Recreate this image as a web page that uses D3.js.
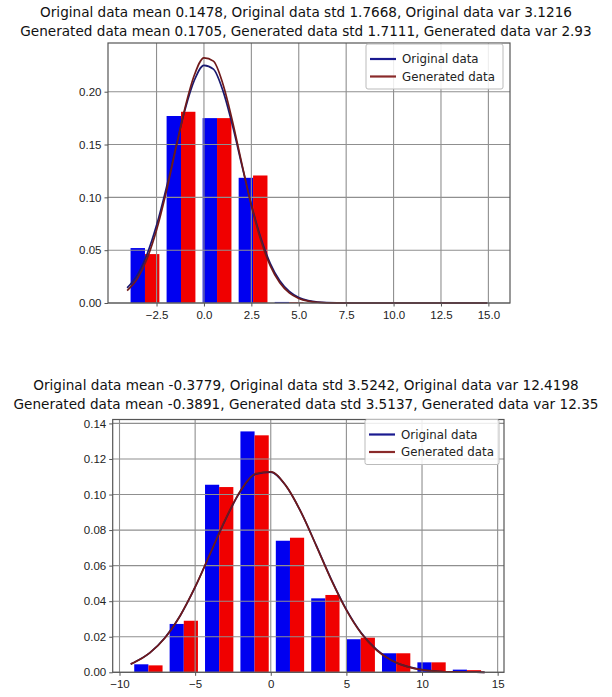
<!DOCTYPE html>
<html>
<head>
<meta charset="utf-8">
<script src="https://cdn.jsdelivr.net/npm/d3@7"></script>
<style>
body { margin:0; background:#fff; }
svg { font-family: "DejaVu Sans", sans-serif; }
.tick text { fill:#222; }
</style>
</head>
<body>
<svg class="chart" width="612" height="697"></svg>
<script>
// ---- top chart data ----
var topTitle = ["Original data mean 0.1478, Original data std 1.7668, Original data var 3.1216",
                "Generated data mean 0.1705, Generated data std 1.7111, Generated data var 2.93"];
var topEdges = [-4.06, -2.16, -0.26, 1.64, 3.54, 5.44, 7.34, 9.24, 11.14, 13.04, 14.94];
var topOrig = [0.052, 0.177, 0.175, 0.1185, 0.001, 0, 0, 0, 0, 0.0004];
var topGen  = [0.0463, 0.181, 0.175, 0.1207, 0.0008, 0, 0, 0, 0, 0.0003];
var topCurveX    = [-4.05, -3.5, -3, -2.5, -2, -1.5, -1, -0.5, 0, 0.5, 1, 1.5, 2, 2.5, 3, 3.5, 4, 4.5, 5, 5.5, 6, 7, 8, 10, 12, 14.94];
var topCurveOrig = [0.0143, 0.0268, 0.0462, 0.0735, 0.1078, 0.1462, 0.1829, 0.2111, 0.2250, 0.2214, 0.2010, 0.1685, 0.1304, 0.0931, 0.0614, 0.0374, 0.0210, 0.0109, 0.0052, 0.0023, 0.0009, 0.0001, 0, 0, 0, 0];
var topCurveGen  = [0.0118, 0.0234, 0.0419, 0.0690, 0.1043, 0.1448, 0.1846, 0.2160, 0.2320, 0.2289, 0.2073, 0.1724, 0.1317, 0.0923, 0.0594, 0.0351, 0.0191, 0.0095, 0.0043, 0.0018, 0.0007, 0.0001, 0, 0, 0, 0];
var topXTicks = [-2.5, 0, 2.5, 5, 7.5, 10, 12.5, 15];
var topYTicks = [0, 0.05, 0.10, 0.15, 0.20];

// ---- bottom chart data ----
var botTitle = ["Original data mean -0.3779, Original data std 3.5242, Original data var 12.4198",
                "Generated data mean -0.3891, Generated data std 3.5137, Generated data var 12.35"];
var botEdges = [-9.26, -6.92, -4.58, -2.24, 0.10, 2.44, 4.78, 7.12, 9.46, 11.80, 14.14];
var botOrig = [0.0045, 0.0272, 0.1055, 0.1355, 0.0740, 0.0416, 0.0186, 0.0107, 0.0056, 0.0015];
var botGen  = [0.0039, 0.0290, 0.1042, 0.1333, 0.0757, 0.0435, 0.0195, 0.0107, 0.0056, 0.0012];
var botCurveX    = [-9.26, -9, -8, -7, -6, -5, -4, -3, -2, -1, 0, 1, 2, 3, 4, 5, 6, 7, 8, 9, 10, 11, 12, 13, 14.14];
var botCurveOrig = [0.0046, 0.0057, 0.0109, 0.0194, 0.0317, 0.0479, 0.0668, 0.0858, 0.1018, 0.1114, 0.1126, 0.1049, 0.0901, 0.0715, 0.0523, 0.0353, 0.0220, 0.0127, 0.0067, 0.0033, 0.0015, 0.0006, 0.0002, 0.0001, 0];
var botCurveGen  = [0.0046, 0.0056, 0.0109, 0.0193, 0.0317, 0.0480, 0.0669, 0.0861, 0.1022, 0.1118, 0.1128, 0.1050, 0.0901, 0.0713, 0.0520, 0.0350, 0.0217, 0.0124, 0.0066, 0.0032, 0.0014, 0.0006, 0.0002, 0.0001, 0];
var botXTicks = [-10, -5, 0, 5, 10, 15];
var botYTicks = [0, 0.02, 0.04, 0.06, 0.08, 0.10, 0.12, 0.14];

var legendNames = ["Original data", "Generated data"];

var svg = d3.select(".chart");

function minus(s){ return s.replace("-", "\u2212"); }

function drawPanel(o){
	var x = d3.scaleLinear().domain(o.xdom).range([o.left, o.right]);
	var y = d3.scaleLinear().domain(o.ydom).range([o.bottom, o.top]);
	var g = svg.append("g");

	// titles
	o.title.forEach(function(t, i){
		g.append("text")
			.attr("x", 306).attr("y", o.titleY + i*19)
			.attr("text-anchor", "middle")
			.style("font-size", "13.6px").style("fill", "#111")
			.text(t);
	});

	// bars
	var pairs = o.orig.map(function(v, i){
		return {l:o.edges[i], w:o.edges[i+1]-o.edges[i], a:v, b:o.gen[i]};
	});
	pairs.forEach(function(d){
		g.append("rect")
			.attr("x", x(d.l + 0.1*d.w)).attr("width", x(d.l + 0.5*d.w) - x(d.l + 0.1*d.w))
			.attr("y", y(d.a)).attr("height", y(0) - y(d.a))
			.style("fill", "#0000f0");
		g.append("rect")
			.attr("x", x(d.l + 0.5*d.w)).attr("width", x(d.l + 0.9*d.w) - x(d.l + 0.5*d.w))
			.attr("y", y(d.b)).attr("height", y(0) - y(d.b))
			.style("fill", "#f00000");
	});

	// grid above bars
	g.selectAll(".gx").data(o.xticks).enter().append("line")
		.attr("x1", function(d){return x(d);}).attr("x2", function(d){return x(d);})
		.attr("y1", o.top).attr("y2", o.bottom)
		.style("stroke", "#8f8f8f").style("stroke-width", 1.1);
	g.selectAll(".gy").data(o.yticks).enter().append("line")
		.attr("y1", function(d){return y(d);}).attr("y2", function(d){return y(d);})
		.attr("x1", o.left).attr("x2", o.right)
		.style("stroke", "#8f8f8f").style("stroke-width", 1.1);

	// curves
	var line = d3.line()
		.x(function(d){return x(d[0]);})
		.y(function(d){return y(d[1]);})
		.curve(d3.curveMonotoneX);
	[[o.curveOrig, "#1a1a70"], [o.curveGen, "#701a1a"]].forEach(function(c){
		g.append("path")
			.datum(o.curveX.map(function(v, i){return [v, c[0][i]];}))
			.attr("d", line)
			.style("fill", "none").style("stroke", c[1]).style("stroke-width", 1.7);
	});

	// frame
	g.append("rect")
		.attr("x", o.left).attr("y", o.top)
		.attr("width", o.right - o.left).attr("height", o.bottom - o.top)
		.style("fill", "none").style("stroke", "#555").style("stroke-width", 1.2);

	// axes
	var xAxis = d3.axisBottom(x).tickValues(o.xticks).tickSize(3.5).tickPadding(4)
		.tickFormat(function(d){return minus(o.xfmt(d));});
	var yAxis = d3.axisLeft(y).tickValues(o.yticks).tickSize(3.5).tickPadding(3)
		.tickFormat(d3.format(".2f"));
	var ax = g.append("g").attr("transform", "translate(0," + o.bottom + ")").call(xAxis);
	var ay = g.append("g").attr("transform", "translate(" + o.left + ",0)").call(yAxis);
	[ax, ay].forEach(function(a){
		a.select(".domain").remove();
		a.selectAll("line").style("stroke", "#555");
		a.selectAll("text").style("font-size", "11.5px").style("fill", "#222");
	});

	// legend
	var lg = g.append("g").attr("transform", "translate(" + o.legX + "," + o.legY + ")");
	lg.append("rect").attr("width", o.legW).attr("height", 45).attr("rx", 2)
		.style("fill", "#fff").style("fill-opacity", 0.85)
		.style("stroke", "#bbb").style("stroke-width", 1);
	legendNames.forEach(function(n, i){
		lg.append("line")
			.attr("x1", 4).attr("x2", 30).attr("y1", 15 + i*17.5).attr("y2", 15 + i*17.5)
			.style("stroke", i == 0 ? "#1a1a90" : "#8a2a2a").style("stroke-width", 2.2);
		lg.append("text").attr("x", 36).attr("y", 15 + i*17.5).attr("dy", "0.35em")
			.style("font-size", "11.8px").style("fill", "#222")
			.text(n);
	});
}

drawPanel({
	title: topTitle, titleY: 17,
	left: 108, right: 510, top: 43, bottom: 303,
	xdom: [-5.06, 16.14], ydom: [0, 0.2461],
	edges: topEdges, orig: topOrig, gen: topGen,
	curveX: topCurveX, curveOrig: topCurveOrig, curveGen: topCurveGen,
	xticks: topXTicks, yticks: topYTicks, xfmt: d3.format(".1f"),
	legX: 366, legY: 44, legW: 137
});

drawPanel({
	title: botTitle, titleY: 390,
	left: 112.7, right: 504, top: 419.5, bottom: 672.3,
	xdom: [-10.45, 15.42], ydom: [0, 0.1422],
	edges: botEdges, orig: botOrig, gen: botGen,
	curveX: botCurveX, curveOrig: botCurveOrig, curveGen: botCurveGen,
	xticks: botXTicks, yticks: botYTicks, xfmt: d3.format("d"),
	legX: 365, legY: 419.5, legW: 134
});
</script>
</body>
</html>
